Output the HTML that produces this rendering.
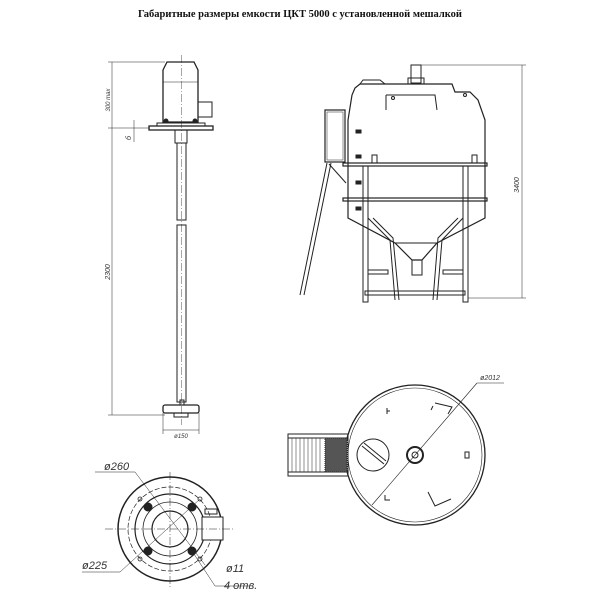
<!DOCTYPE html>
<html><head><meta charset="utf-8"><style>
html,body{margin:0;padding:0;background:#fff;}
svg{display:block;}
text{font-family:"Liberation Sans","DejaVu Sans",sans-serif;fill:#333;}
</style></head><body>
<svg width="600" height="600" viewBox="0 0 600 600" xmlns="http://www.w3.org/2000/svg">
<text x="300" y="17" text-anchor="middle" style="font-family:'Liberation Serif',serif;font-weight:bold;font-size:10.5px;fill:#111">Габаритные размеры емкости ЦКТ 5000 с установленной мешалкой</text>

<g stroke="#222" fill="none" stroke-width="1">
<!-- Mixer -->
<path d="M163,70 L167,62 L194,62 L198,70 L198,122 L163,122 Z" stroke-width="1.3"/>
<line x1="163" y1="82" x2="198" y2="82" stroke-width="0.6"/>
<rect x="198" y="102" width="14" height="15"/>
<rect x="157" y="123" width="48" height="3"/>
<circle cx="166" cy="121" r="2" fill="#222"/><circle cx="195" cy="121" r="2" fill="#222"/>
<rect x="149" y="126" width="64" height="4" stroke-width="1.3"/>
<rect x="175" y="130" width="12" height="13"/>
<rect x="177" y="143" width="9" height="77"/>
<rect x="177" y="225" width="9" height="177"/>
<line x1="181.5" y1="55" x2="181.5" y2="425" stroke-width="0.4" stroke-dasharray="8,2,1,2"/>
<rect x="180" y="400" width="4" height="5"/>
<rect x="163" y="405" width="36" height="8" rx="2" stroke-width="1.3"/>
<rect x="174" y="413" width="14" height="4"/>
<!-- mixer dims -->
<g stroke-width="0.5">
<line x1="108" y1="62" x2="165" y2="62"/><line x1="108" y1="128" x2="150" y2="128"/><line x1="108" y1="415" x2="165" y2="415"/>
<line x1="112" y1="62" x2="112" y2="415"/>
<line x1="134" y1="120" x2="134" y2="142"/>
<line x1="163" y1="413" x2="163" y2="434"/><line x1="199" y1="413" x2="199" y2="434"/>
<line x1="163" y1="430" x2="199" y2="430"/>
</g>

<!-- Tank front -->
<path d="M355,88 L352,95 L348,120 L348,218 L395,243 L412,260 L422,260 L437,243 L485,218 L485,120 L478,100 L470,92 L455,92 L452,84 L360,84 Z" stroke-width="1.2"/>
<path d="M360,84 L363,80 L380,80 L385,84" />
<rect x="411" y="65" width="10" height="18"/>
<rect x="408" y="78" width="16" height="6"/>
<path d="M386,95 L386,110 M386,95 L435,95 L437,110"/>
<line x1="395" y1="243" x2="437" y2="243"/>
<rect x="412" y="260" width="10" height="15"/>
<rect x="343" y="163" width="144" height="3" stroke-width="1.2"/>
<rect x="343" y="198" width="144" height="3" stroke-width="1.2"/>
<rect x="363" y="166" width="5" height="136"/>
<rect x="463" y="166" width="5" height="136"/>
<rect x="365" y="291" width="100" height="4"/>
<rect x="368" y="270" width="20" height="4"/><rect x="443" y="270" width="20" height="4"/>
<path d="M368,218 L390,240 L395,300 M373,218 L393,238 L399,300"/>
<path d="M463,218 L442,240 L437,300 M458,218 L438,238 L433,300"/>
<rect x="325" y="110" width="20" height="52" stroke-width="1.2"/>
<rect x="327" y="112" width="16" height="48" stroke-width="0.5"/>
<path d="M327,163 L300,295 M331,163 L304,295 M329,164 L346,183"/>
<rect x="372" y="155" width="5" height="8"/><rect x="472" y="155" width="5" height="8"/>
<g fill="#222"><rect x="356" y="130" width="5" height="3"/><rect x="356" y="155" width="5" height="3"/><rect x="356" y="181" width="5" height="3"/><rect x="356" y="207" width="5" height="3"/></g>
<circle cx="393" cy="98" r="1.5"/><circle cx="465" cy="95" r="1.5"/>
<g stroke-width="0.5">
<line x1="421" y1="65" x2="526" y2="65"/><line x1="468" y1="298" x2="526" y2="298"/>
<line x1="522" y1="65" x2="522" y2="298"/>
</g>

<!-- Flange view -->
<circle cx="170" cy="529" r="52" stroke-width="1.5"/>
<circle cx="170" cy="529" r="42" stroke-dasharray="5,2" stroke-width="0.7"/>
<circle cx="170" cy="529" r="35" stroke-width="1.2"/>
<circle cx="170" cy="529" r="27" stroke-width="0.8"/>
<circle cx="170" cy="529" r="18" stroke-width="1.2"/>
<rect x="202" y="517" width="21" height="23" fill="#fff"/>
<g fill="#222"><circle cx="148" cy="507" r="4"/><circle cx="192" cy="507" r="4"/><circle cx="148" cy="551" r="4"/><circle cx="192" cy="551" r="4"/></g>
<g stroke-width="0.8"><circle cx="140" cy="499" r="2"/><circle cx="200" cy="499" r="2"/><circle cx="140" cy="559" r="2"/><circle cx="200" cy="559" r="2"/></g>
<rect x="205" y="509" width="12" height="5"/>
<g stroke-width="0.5">
<line x1="105" y1="529" x2="235" y2="529" stroke-dasharray="8,2,1,2"/>
<line x1="170" y1="472" x2="170" y2="587" stroke-dasharray="8,2,1,2"/>
<path d="M95,472 L135,472 L205,565"/>
<path d="M82,572 L120,572 L200,499"/>
<path d="M192,551 L215,586 L250,586"/>
</g>

<!-- Top view -->
<circle cx="415" cy="455" r="70" stroke-width="1.3"/>
<circle cx="415" cy="455" r="67" stroke-width="0.6"/>
<rect x="288" y="434" width="60" height="42"/>
<line x1="288" y1="438" x2="348" y2="438"/><line x1="288" y1="472" x2="348" y2="472"/>
<g stroke-width="0.5"><line x1="292" y1="438" x2="292" y2="472"/><line x1="296" y1="438" x2="296" y2="472"/><line x1="300" y1="438" x2="300" y2="472"/><line x1="304" y1="438" x2="304" y2="472"/><line x1="308" y1="438" x2="308" y2="472"/><line x1="312" y1="438" x2="312" y2="472"/><line x1="316" y1="438" x2="316" y2="472"/><line x1="320" y1="438" x2="320" y2="472"/></g>
<rect x="325" y="438" width="22" height="34" fill="#555" stroke-dasharray="1,1"/>
<circle cx="373" cy="455" r="16"/>
<path d="M362,446 L384,464 M364,443 L386,461"/>
<circle cx="415" cy="455" r="8" stroke-width="2"/>
<circle cx="415" cy="455" r="3"/>
<path d="M435,403 L452,407 L448,414 M433,406 L431,410"/>
<path d="M428,492 L435,506 L451,499"/>
<path d="M387,408 L387,414 M390,411 L387,411"/>
<path d="M385,495 L385,500 L390,500"/>
<rect x="465" y="452" width="4" height="6"/>
<line x1="372" y1="505" x2="477" y2="383" stroke-width="0.6"/>
<line x1="477" y1="383" x2="504" y2="383" stroke-width="0.6"/>
</g>

<g style="font-style:italic;font-size:8px">
<text transform="translate(110,100) rotate(-90)" text-anchor="middle" style="font-size:6px">300 max</text>
<text transform="translate(131,138) rotate(-90)" text-anchor="middle" style="font-size:7px">б</text>
<text transform="translate(110,272) rotate(-90)" text-anchor="middle" style="font-size:7px">2300</text>
<text x="181" y="438" text-anchor="middle" style="font-size:6px">ø150</text>
<text transform="translate(519,185) rotate(-90)" text-anchor="middle" style="font-size:7px">3400</text>
<text x="490" y="380" text-anchor="middle" style="font-size:7px">ø2012</text>
<text x="104" y="470" style="font-size:11px">ø260</text>
<text x="82" y="569" style="font-size:11px">ø225</text>
<text x="226" y="572" style="font-size:11px">ø11</text>
<text x="224" y="589" style="font-size:11px">4 отв.</text>
</g>
</svg>
</body></html>
